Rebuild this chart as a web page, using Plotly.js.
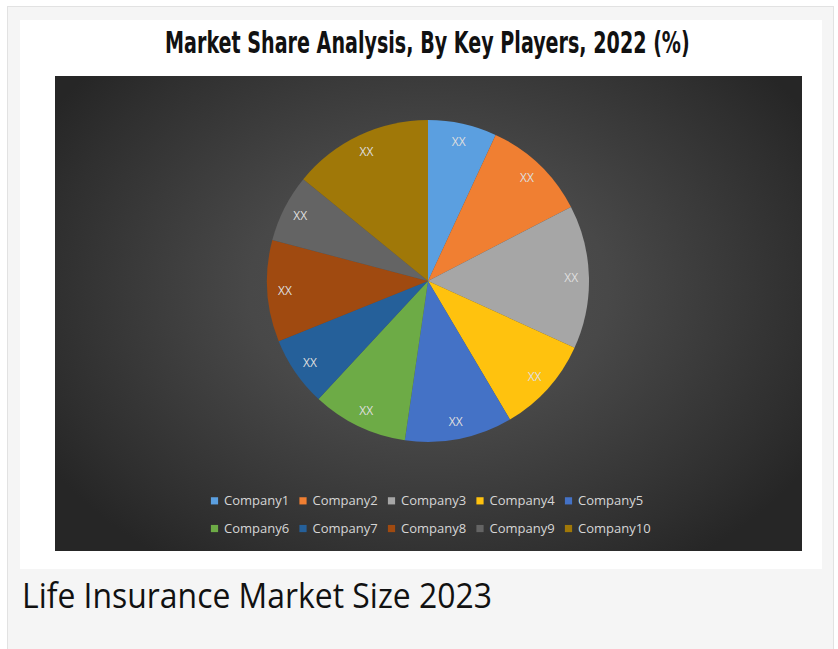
<!DOCTYPE html>
<html>
<head>
<meta charset="utf-8">
<script src="https://cdn.plot.ly/plotly-3.0.1.min.js"></script>
<style>
  html, body { margin: 0; padding: 0; background: #ffffff; width: 838px; height: 649px; overflow: hidden; }
  #outer { position: absolute; left: 7px; top: 6px; width: 825px; height: 660px; background: #f5f5f5; border: 1.5px solid #e2e2e2; }
  #card { position: absolute; left: 20px; top: 20px; width: 802px; height: 549px; background: #ffffff; }
  #dark { position: absolute; left: 35px; top: 56px; width: 747px; height: 475px;
          background: radial-gradient(ellipse 60% 70% at 50% 45%, #525252 0%, #484848 40%, #2f2f2f 85%, #262626 100%); }
  #chart { position: absolute; left: 0; top: 0; width: 802px; height: 549px; }
  #caption { position: absolute; left: 22px; top: 572px; font-family: "Open Sans", sans-serif; font-size: 34px;
             color: #111111; white-space: nowrap; transform-origin: 0 0; }
</style>
</head>
<body>
<div id="outer"></div>
<div id="card">
  <div id="dark"></div>
  <div id="chart"></div>
</div>
<div id="caption">Life Insurance Market Size 2023</div>
<script>
// ---- data ----
const companies = ["Company1","Company2","Company3","Company4","Company5","Company6","Company7","Company8","Company9","Company10"];
const shares = [6.9, 10.5, 14.4, 9.7, 10.8, 9.6, 7.0, 10.2, 6.8, 14.1];
const sliceText = ["XX","XX","XX","XX","XX","XX","XX","XX","XX","XX"];
const colors = ["#5b9fe0","#f07f32","#a6a6a6","#ffc20e","#4472c6","#6dab46","#25609a","#a04a10","#646464","#a07808"];
const chartTitle = "Market Share Analysis, By Key Players, 2022 (%)";

const pieDomain = { x: [0.0083, 1], y: [0.2494, 1] };

// the slices themselves
const pieTrace = {
  type: "pie",
  labels: companies.map(c => '<span style="font-size:13px">' + c + '</span>'),
  values: shares,
  textinfo: "none",
  sort: false,
  direction: "clockwise",
  rotation: 0,
  domain: pieDomain,
  marker: { colors: colors, line: { width: 0 } },
  hoverinfo: "label+percent"
};

// transparent ring carrying the "XX" data labels near the outer edge
const labelTrace = {
  type: "pie",
  labels: companies.map(c => '<span style="font-size:13px">' + c + '</span>'),
  values: shares,
  text: sliceText,
  textinfo: "text",
  textposition: "inside",
  insidetextorientation: "horizontal",
  textfont: { family: "Open Sans, sans-serif", size: 12, color: "#dedede" },
  hole: 0.78,
  sort: false,
  direction: "clockwise",
  rotation: 0,
  domain: pieDomain,
  showlegend: false,
  marker: { colors: companies.map(() => "rgba(0,0,0,0)"), line: { width: 0 } },
  hoverinfo: "skip"
};

const layout = {
  width: 802, height: 549,
  paper_bgcolor: "rgba(0,0,0,0)",
  plot_bgcolor: "rgba(0,0,0,0)",
  margin: { l: 164, r: 154, t: 100, b: 20 },
  title: {
    text: "<b>" + chartTitle + "</b>",
    font: { family: "DejaVu Sans Condensed, Open Sans, sans-serif", size: 30, color: "#111111" },
    x: 0.508, xanchor: "center", xref: "container",
    y: 0.9599, yanchor: "middle", yref: "container"
  },
  showlegend: true,
  legend: {
    orientation: "h",
    x: 0, xanchor: "left",
    y: 0.1632, yanchor: "top",
    font: { family: "Open Sans, sans-serif", size: 19, color: "#d6d6d6" },
    entrywidth: 43.5, entrywidthmode: "pixels",
    itemwidth: 30,
    bgcolor: "rgba(0,0,0,0)",
    traceorder: "normal"
  }
};

Plotly.newPlot("chart", [pieTrace, labelTrace], layout, { displayModeBar: false, staticPlot: true }).then(() => {
  // condense the title horizontally, like the reference's narrow heading
  const t = document.querySelector("#chart .gtitle");
  if (t) {
    const bb = t.getBBox();
    const s = 525 / bb.width;
    const cx = bb.x + bb.width / 2;
    t.setAttribute("transform", "translate(" + cx + ",0) scale(" + s + ",1) translate(" + (-cx) + ",0)");
  }
  // smaller legend swatches sitting close to their labels, as in the reference
  document.querySelectorAll("#chart .legend .legendpoints path").forEach(p => {
    const bb = p.getBBox();
    const cx = bb.x + bb.width / 2, cy = bb.y + bb.height / 2;
    const tr = p.getAttribute("transform") || "";
    p.setAttribute("transform", "translate(10.5,3) " + tr + " translate(" + cx + "," + cy + ") scale(0.6) translate(" + (-cx) + "," + (-cy) + ")");
  });
  document.querySelectorAll("#chart .legend [clip-path]").forEach(e => e.removeAttribute("clip-path"));
  const cap = document.getElementById("caption");
  const w = cap.getBoundingClientRect().width;
  cap.style.transform = "scaleX(" + (470 / w) + ")";
});
</script>
</body>
</html>
